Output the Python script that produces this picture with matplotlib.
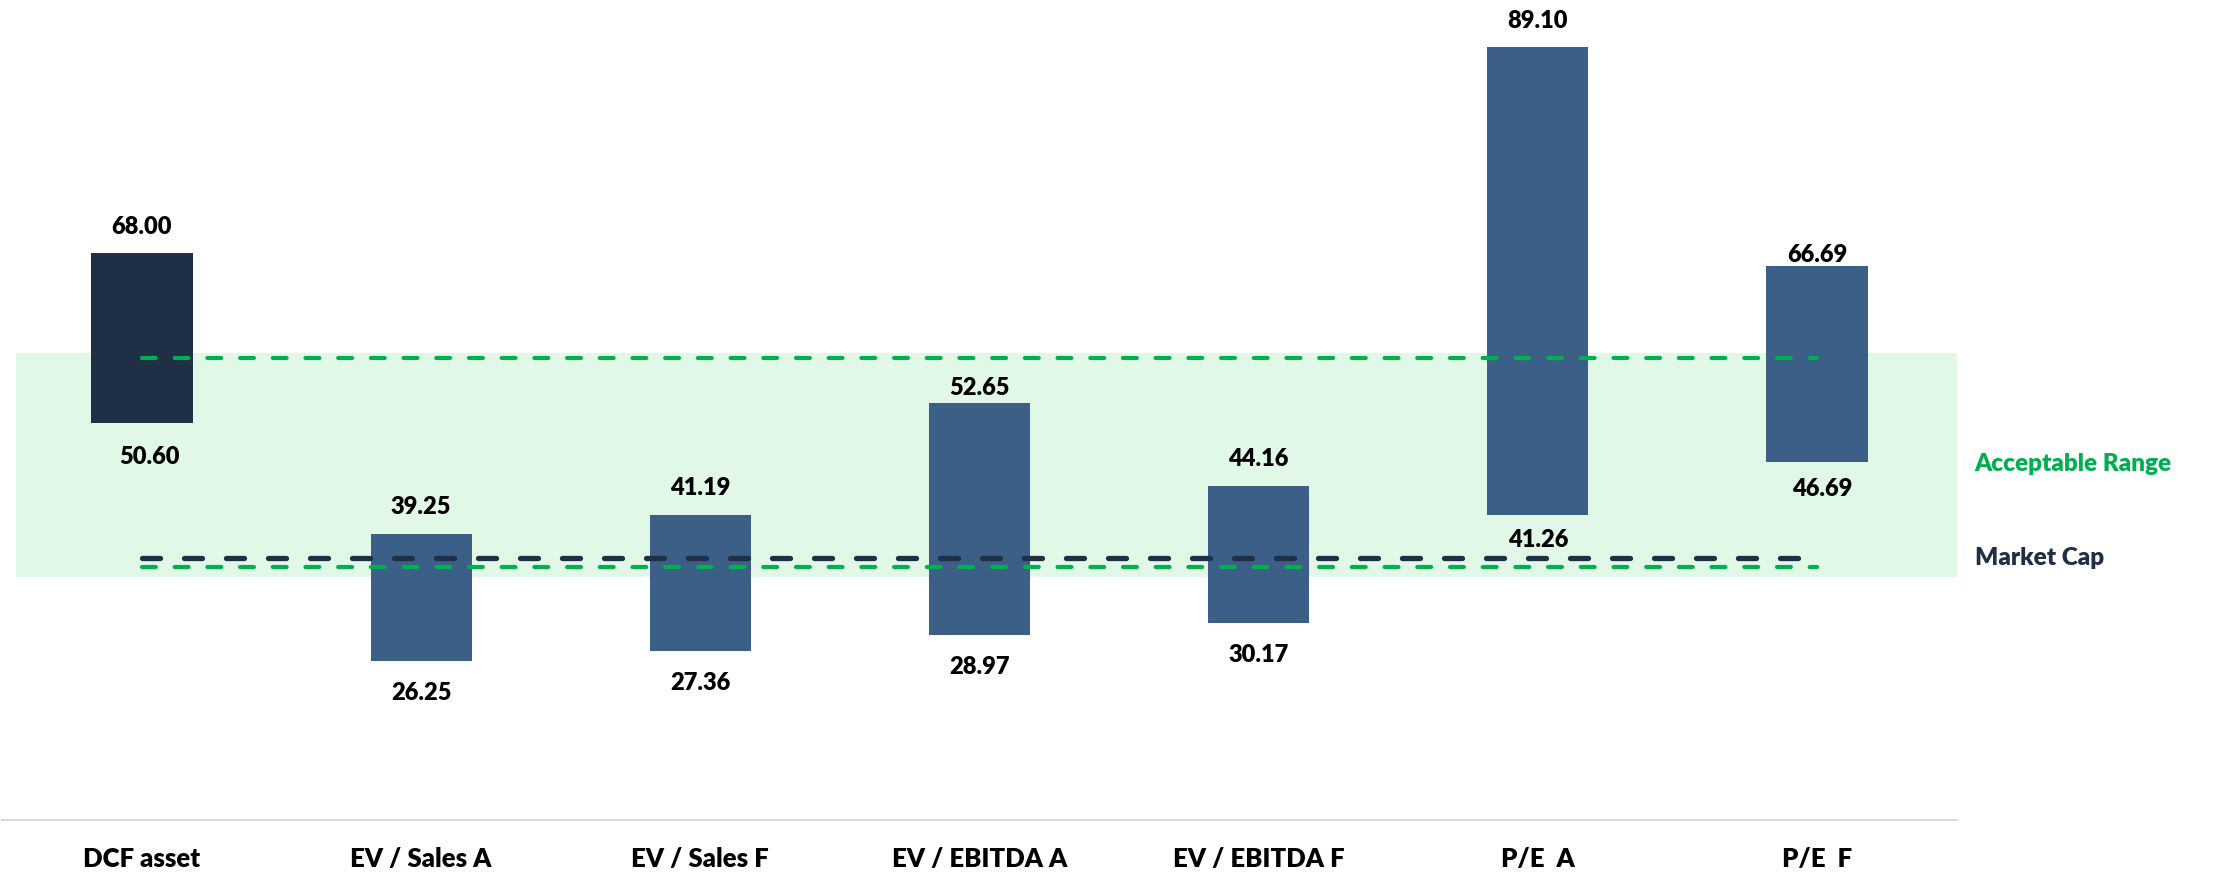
import matplotlib.pyplot as plt

plt.rcParams["font.family"] = ["Lato", "DejaVu Sans"]
plt.rcParams["lines.scale_dashes"] = False

# Valuation ranges (low / high) per method
categories = ["DCF asset", "EV / Sales A", "EV / Sales F", "EV / EBITDA A",
              "EV / EBITDA F", "P/E  A", "P/E  F"]
lows = [50.60, 26.25, 27.36, 28.97, 30.17, 41.26, 46.69]
highs = [68.00, 39.25, 41.19, 52.65, 44.16, 89.10, 66.69]

# Reference levels
range_low = 35.91
range_high = 57.29
band_low = 34.92
band_high = 57.83
market_cap = 36.83

# label nudges in pixels (top gap to baseline, bottom gap to baseline, x shift)
top_gap = [19, 20, 20, 8, 20, 19, 4]
bottom_gap = [41, 39, 39, 39, 39, 32, 34]
bottom_dx = [7, 0, 0, 0, 0, 0, 5]

navy = "#1f2f45"
blue = "#3b5f86"
green = "#00b04f"
band_color = "#e2f8e6"
px = 0.72  # points per pixel at dpi 100
weight = "heavy"

W, H = 2238, 873
fig = plt.figure(figsize=(W / 100, H / 100), dpi=100)
ax = fig.add_axes([2.4 / W, 53 / H, 1954.2 / W, 820 / H])

x = list(range(len(categories)))
heights = [h - l for h, l in zip(highs, lows)]
colors = [navy] + [blue] * (len(categories) - 1)
ax.bar(x, heights, bottom=lows, width=0.362, color=colors, zorder=2)

# acceptable range band and lines
ax.axhspan(band_low, band_high, xmin=(-0.451 + 0.5) / 7, xmax=1.0,
           color=band_color, zorder=0, lw=0)
for lvl in (range_high, range_low):
    ax.plot([0, len(categories) - 1], [lvl, lvl], color=green, lw=4.2 * px,
            dashes=(13.8 * px, 18.9 * px), dash_capstyle="round", zorder=3)
ax.plot([0, len(categories) - 1], [market_cap, market_cap], color=navy,
        lw=5.3 * px, dashes=(18 * px, 24 * px), dash_capstyle="round", zorder=3)

# value labels
for i in x:
    ax.annotate(f"{highs[i]:.2f}", (i, highs[i]), xytext=(0, top_gap[i] * px),
                textcoords="offset points", ha="center", va="baseline",
                fontsize=17, fontweight=weight, color="black", zorder=4)
    ax.annotate(f"{lows[i]:.2f}", (i, lows[i]),
                xytext=(bottom_dx[i] * px, -bottom_gap[i] * px),
                textcoords="offset points", ha="center", va="baseline",
                fontsize=17, fontweight=weight, color="black", zorder=4)

# category labels
for i, name in enumerate(categories):
    ax.annotate(name, (i, 0), xycoords=("data", "axes fraction"),
                xytext=(0, -46.7 * px), textcoords="offset points",
                ha="center", va="baseline", fontsize=18.5, fontweight=weight,
                color="black", annotation_clip=False)

# right-hand legend text
ax.annotate("Acceptable Range", (1, (band_low + band_high) / 2),
            xycoords=("axes fraction", "data"), xytext=(18 * px, -6.5 * px),
            textcoords="offset points", ha="left", va="baseline",
            fontsize=17.5, fontweight=weight, color=green, annotation_clip=False)
ax.annotate("Market Cap", (1, market_cap),
            xycoords=("axes fraction", "data"), xytext=(18 * px, -6.5 * px),
            textcoords="offset points", ha="left", va="baseline",
            fontsize=17.5, fontweight=weight, color=navy, annotation_clip=False)

ax.set_xlim(-0.5, len(categories) - 0.5)
ax.set_ylim(10.03, 93.91)
ax.set_xticks([])
ax.set_yticks([])
for side in ["top", "right", "left"]:
    ax.spines[side].set_visible(False)
ax.spines["bottom"].set_color("#d9d9d9")
ax.spines["bottom"].set_linewidth(2 * px)
ax.patch.set_alpha(0)

fig.savefig("out.png", dpi=100)
